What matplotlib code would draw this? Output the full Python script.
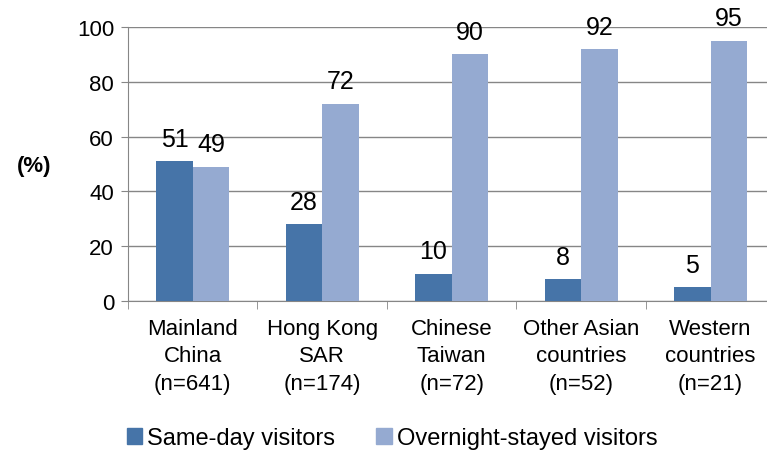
import numpy as np
import matplotlib.pyplot as plt
from matplotlib.patches import Patch

plt.rcParams['font.family'] = ['Liberation Sans', 'DejaVu Sans']

# --- 데이터 ---
categories = ['Mainland\nChina\n(n=641)', 'Hong Kong\nSAR\n(n=174)', 'Chinese\nTaiwan\n(n=72)',
              'Other Asian\ncountries\n(n=52)', 'Western\ncountries\n(n=21)']
same_day = [51, 28, 10, 8, 5]
overnight = [49, 72, 90, 92, 95]
series_names = ['Same-day visitors', 'Overnight-stayed visitors']
yticks = [0, 20, 40, 60, 80, 100]

dark = '#4674A8'
light = '#95AAD1'
grid_c = '#868686'

fig = plt.figure(figsize=(7.67, 4.52), dpi=100)
ax = fig.add_axes([0.1669, 0.332, 0.844, 0.606])

x = np.arange(len(categories))
w = 0.282
b1 = ax.bar(x - w/2, same_day, w, color=dark, zorder=3)
b2 = ax.bar(x + w/2, overnight, w, color=light, zorder=3)

# 값 라벨
for bars in (b1, b2):
    for rect in bars:
        h = rect.get_height()
        ax.annotate(f'{h:g}', (rect.get_x() + rect.get_width()/2, h),
                    xytext=(0, 7.5), textcoords='offset points',
                    ha='center', va='bottom', fontsize=18)

# 축 설정
ax.set_xlim(-0.5, len(categories) - 0.5)
ax.set_ylim(0, 100)
ax.set_yticks(yticks)
ax.tick_params(axis='y', labelsize=16, length=5, color=grid_c, pad=5)
ax.set_xticks(x)
ax.set_xticklabels(categories, fontsize=16, linespacing=1.42)
ax.tick_params(axis='x', length=0, pad=12)
ax.set_xticks(np.arange(len(categories)) - 0.5, minor=True)
ax.tick_params(axis='x', which='minor', length=6, color=grid_c)
ax.yaxis.grid(True, color=grid_c, linewidth=1, zorder=0)
ax.set_axisbelow(True)
for s in ('top', 'right'):
    ax.spines[s].set_visible(False)
ax.spines['left'].set_color(grid_c)
ax.spines['bottom'].set_color(grid_c)

fig.text(0.045, 0.632, '(%)', fontsize=16, fontweight='bold', ha='center', va='center')

handles = [Patch(color=dark), Patch(color=light)]
fig.legend(handles, series_names, loc='lower left', bbox_to_anchor=(0.138, -0.043),
           ncol=2, frameon=False, fontsize=17, handlelength=0.65, handleheight=0.65,
           handletextpad=0.2, columnspacing=1.75)

fig.savefig('out.png', dpi=100)
